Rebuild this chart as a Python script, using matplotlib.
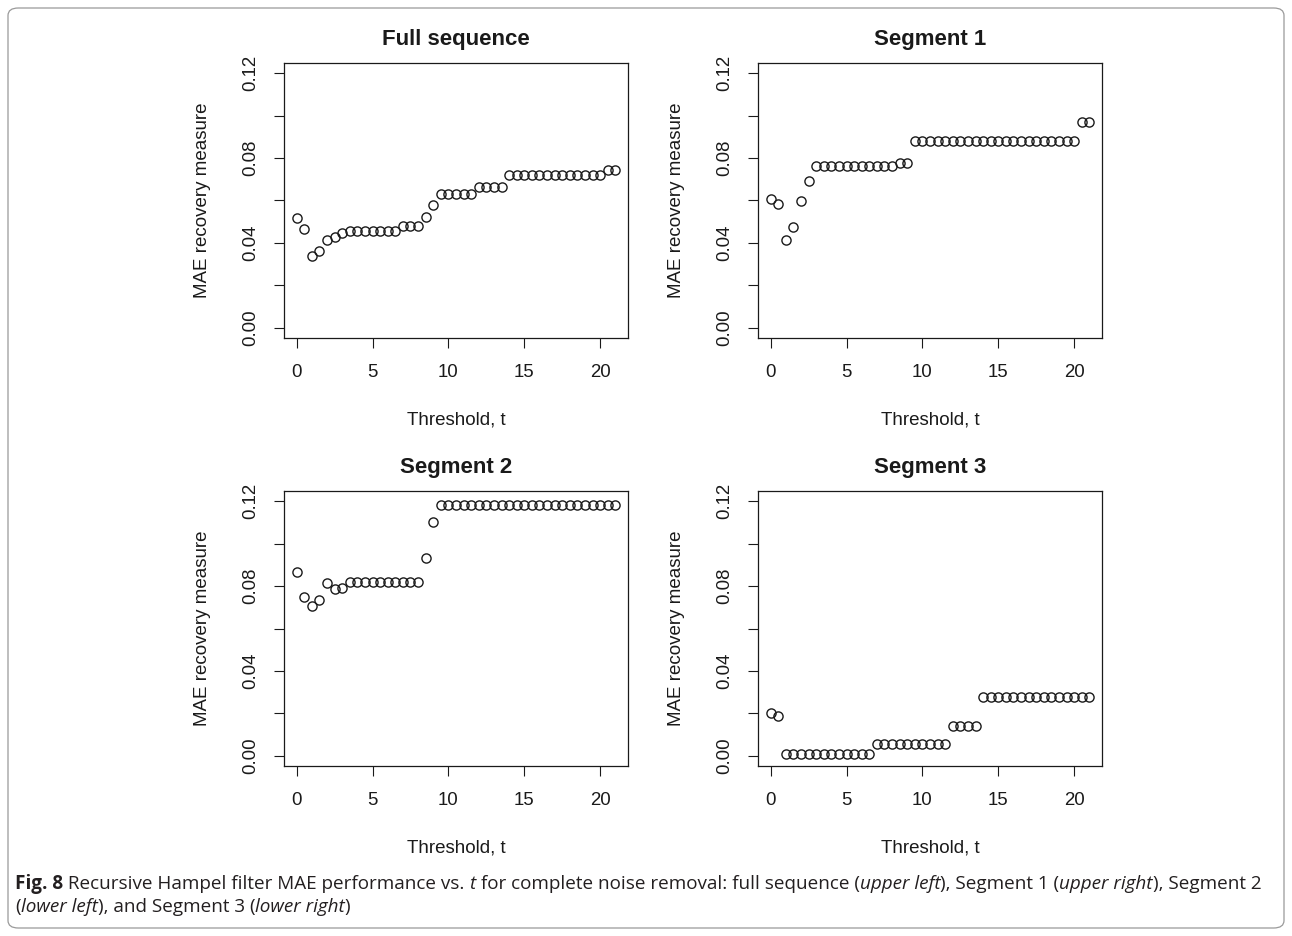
import numpy as np
import matplotlib
matplotlib.use("Agg")
import matplotlib.pyplot as plt
from matplotlib.patches import FancyBboxPatch

plt.rcParams['font.family'] = ['Liberation Sans', 'DejaVu Sans']

# thresholds t = 0, 0.5, ..., 21
t = np.arange(0, 21.5, 0.5)

full_seq = [0.0519, 0.0467, 0.0338, 0.0363, 0.0414, 0.0428, 0.0448,
            0.0456, 0.0456, 0.0456, 0.0456, 0.0456, 0.0456, 0.0456,
            0.0481, 0.0481, 0.0481, 0.0521, 0.0577,
            0.0629, 0.0629, 0.0629, 0.0629, 0.0629,
            0.0662, 0.0662, 0.0662, 0.0662,
            0.0719, 0.0719, 0.0719, 0.0719, 0.0719, 0.0719, 0.0719,
            0.0719, 0.0719, 0.0719, 0.0719, 0.0719, 0.0719,
            0.0744, 0.0744]

segment1 = [0.0605, 0.0583, 0.0414, 0.0474, 0.0597, 0.0694,
            0.0764, 0.0764, 0.0764, 0.0764, 0.0764, 0.0764, 0.0764,
            0.0764, 0.0764, 0.0764, 0.0764,
            0.0777, 0.0777,
            0.0880, 0.0880, 0.0880, 0.0880, 0.0880, 0.0880, 0.0880, 0.0880,
            0.0880, 0.0880, 0.0880, 0.0880, 0.0880, 0.0880, 0.0880, 0.0880,
            0.0880, 0.0880, 0.0880, 0.0880, 0.0880, 0.0880,
            0.0970, 0.0970]

segment2 = [0.0864, 0.0750, 0.0707, 0.0734, 0.0813, 0.0787, 0.0790,
            0.0820, 0.0820, 0.0820, 0.0820, 0.0820, 0.0820, 0.0820,
            0.0820, 0.0820, 0.0820,
            0.0933, 0.1103,
            0.1180, 0.1180, 0.1180, 0.1180, 0.1180, 0.1180, 0.1180, 0.1180,
            0.1180, 0.1180, 0.1180, 0.1180, 0.1180, 0.1180, 0.1180, 0.1180,
            0.1180, 0.1180, 0.1180, 0.1180, 0.1180, 0.1180, 0.1180, 0.1180]

segment3 = [0.0202, 0.0186,
            0.0008, 0.0008, 0.0008, 0.0008, 0.0008, 0.0008,
            0.0008, 0.0008, 0.0008, 0.0008, 0.0008, 0.0008,
            0.0058, 0.0058, 0.0058, 0.0058, 0.0058,
            0.0058, 0.0058, 0.0058, 0.0058, 0.0058,
            0.0140, 0.0140, 0.0140, 0.0140,
            0.0276, 0.0276, 0.0276, 0.0276, 0.0276, 0.0276, 0.0276, 0.0276,
            0.0276, 0.0276, 0.0276, 0.0276, 0.0276, 0.0276, 0.0276]

titles = ["Full sequence", "Segment 1", "Segment 2", "Segment 3"]
series = [full_seq, segment1, segment2, segment3]
x_ticks = [0, 5, 10, 15, 20]
y_ticks = [0.00, 0.02, 0.04, 0.06, 0.08, 0.10, 0.12]
y_labels = ["0.00", "", "0.04", "", "0.08", "", "0.12"]

W, H = 1292, 936
fig = plt.figure(figsize=(W / 100, H / 100), dpi=100)

# outer frame
frame = FancyBboxPatch((8 / W, 8 / H), 1276 / W, 920 / H,
                       boxstyle="round,pad=0,rounding_size=0.008",
                       transform=fig.transFigure, fill=False,
                       edgecolor="#9a9a9a", linewidth=0.9)
fig.patches.append(frame)

# panel boxes in pixels: left, top
boxes = [(284, 63), (758, 63), (284, 491), (758, 491)]
bw, bh = 344, 275

for (left, top), title, vals in zip(boxes, titles, series):
    ax = fig.add_axes([left / W, 1 - (top + bh) / H, bw / W, bh / H])
    ax.plot(t, vals, linestyle="none", marker="o", markersize=6.6,
            markerfacecolor="none", markeredgecolor="#1a1a1a",
            markeredgewidth=1.0)
    ax.set_xlim(-0.84, 21.84)
    ax.set_ylim(-0.0048, 0.1248)
    ax.set_xticks(x_ticks)
    ax.set_yticks(y_ticks)
    ax.set_yticklabels(y_labels, rotation=90, va="center")
    ax.tick_params(direction="out", length=7, width=0.8, colors="#1a1a1a",
                   labelsize=13.4, pad=12)
    ax.tick_params(axis="y", pad=11)
    for sp in ax.spines.values():
        sp.set_linewidth(0.9)
        sp.set_color("#1a1a1a")
    ax.set_xlabel("Threshold, t", fontsize=13.5, labelpad=22, color="#1a1a1a")
    ax.set_ylabel("MAE recovery measure", fontsize=13.5, labelpad=22,
                  color="#1a1a1a")
    ax.set_title(title, fontsize=16, fontweight="bold", pad=13,
                 color="#1a1a1a")

# caption, drawn piece by piece
cap_font = ['Open Sans', 'DejaVu Sans']
line1 = [("Fig. 8", "bold", "normal"),
         (" Recursive Hampel filter MAE performance vs. ", "normal", "normal"),
         ("t", "normal", "italic"),
         (" for complete noise removal: full sequence (", "normal", "normal"),
         ("upper left", "normal", "italic"),
         ("), Segment 1 (", "normal", "normal"),
         ("upper right", "normal", "italic"),
         ("), Segment 2", "normal", "normal")]
line2 = [("(", "normal", "normal"),
         ("lower left", "normal", "italic"),
         ("), and Segment 3 (", "normal", "normal"),
         ("lower right", "normal", "italic"),
         (")", "normal", "normal")]

renderer = fig.canvas.get_renderer()
for pieces, ybase in [(line1, 889), (line2, 912)]:
    x = 15
    for txt, weight, style in pieces:
        tt = fig.text(x / W, 1 - ybase / H, txt, fontsize=13.6,
                      family=cap_font, weight=weight, style=style,
                      color="#231f20", ha="left", va="baseline")
        bb = tt.get_window_extent(renderer=renderer)
        x += bb.width

fig.savefig("out.png", dpi=100)
